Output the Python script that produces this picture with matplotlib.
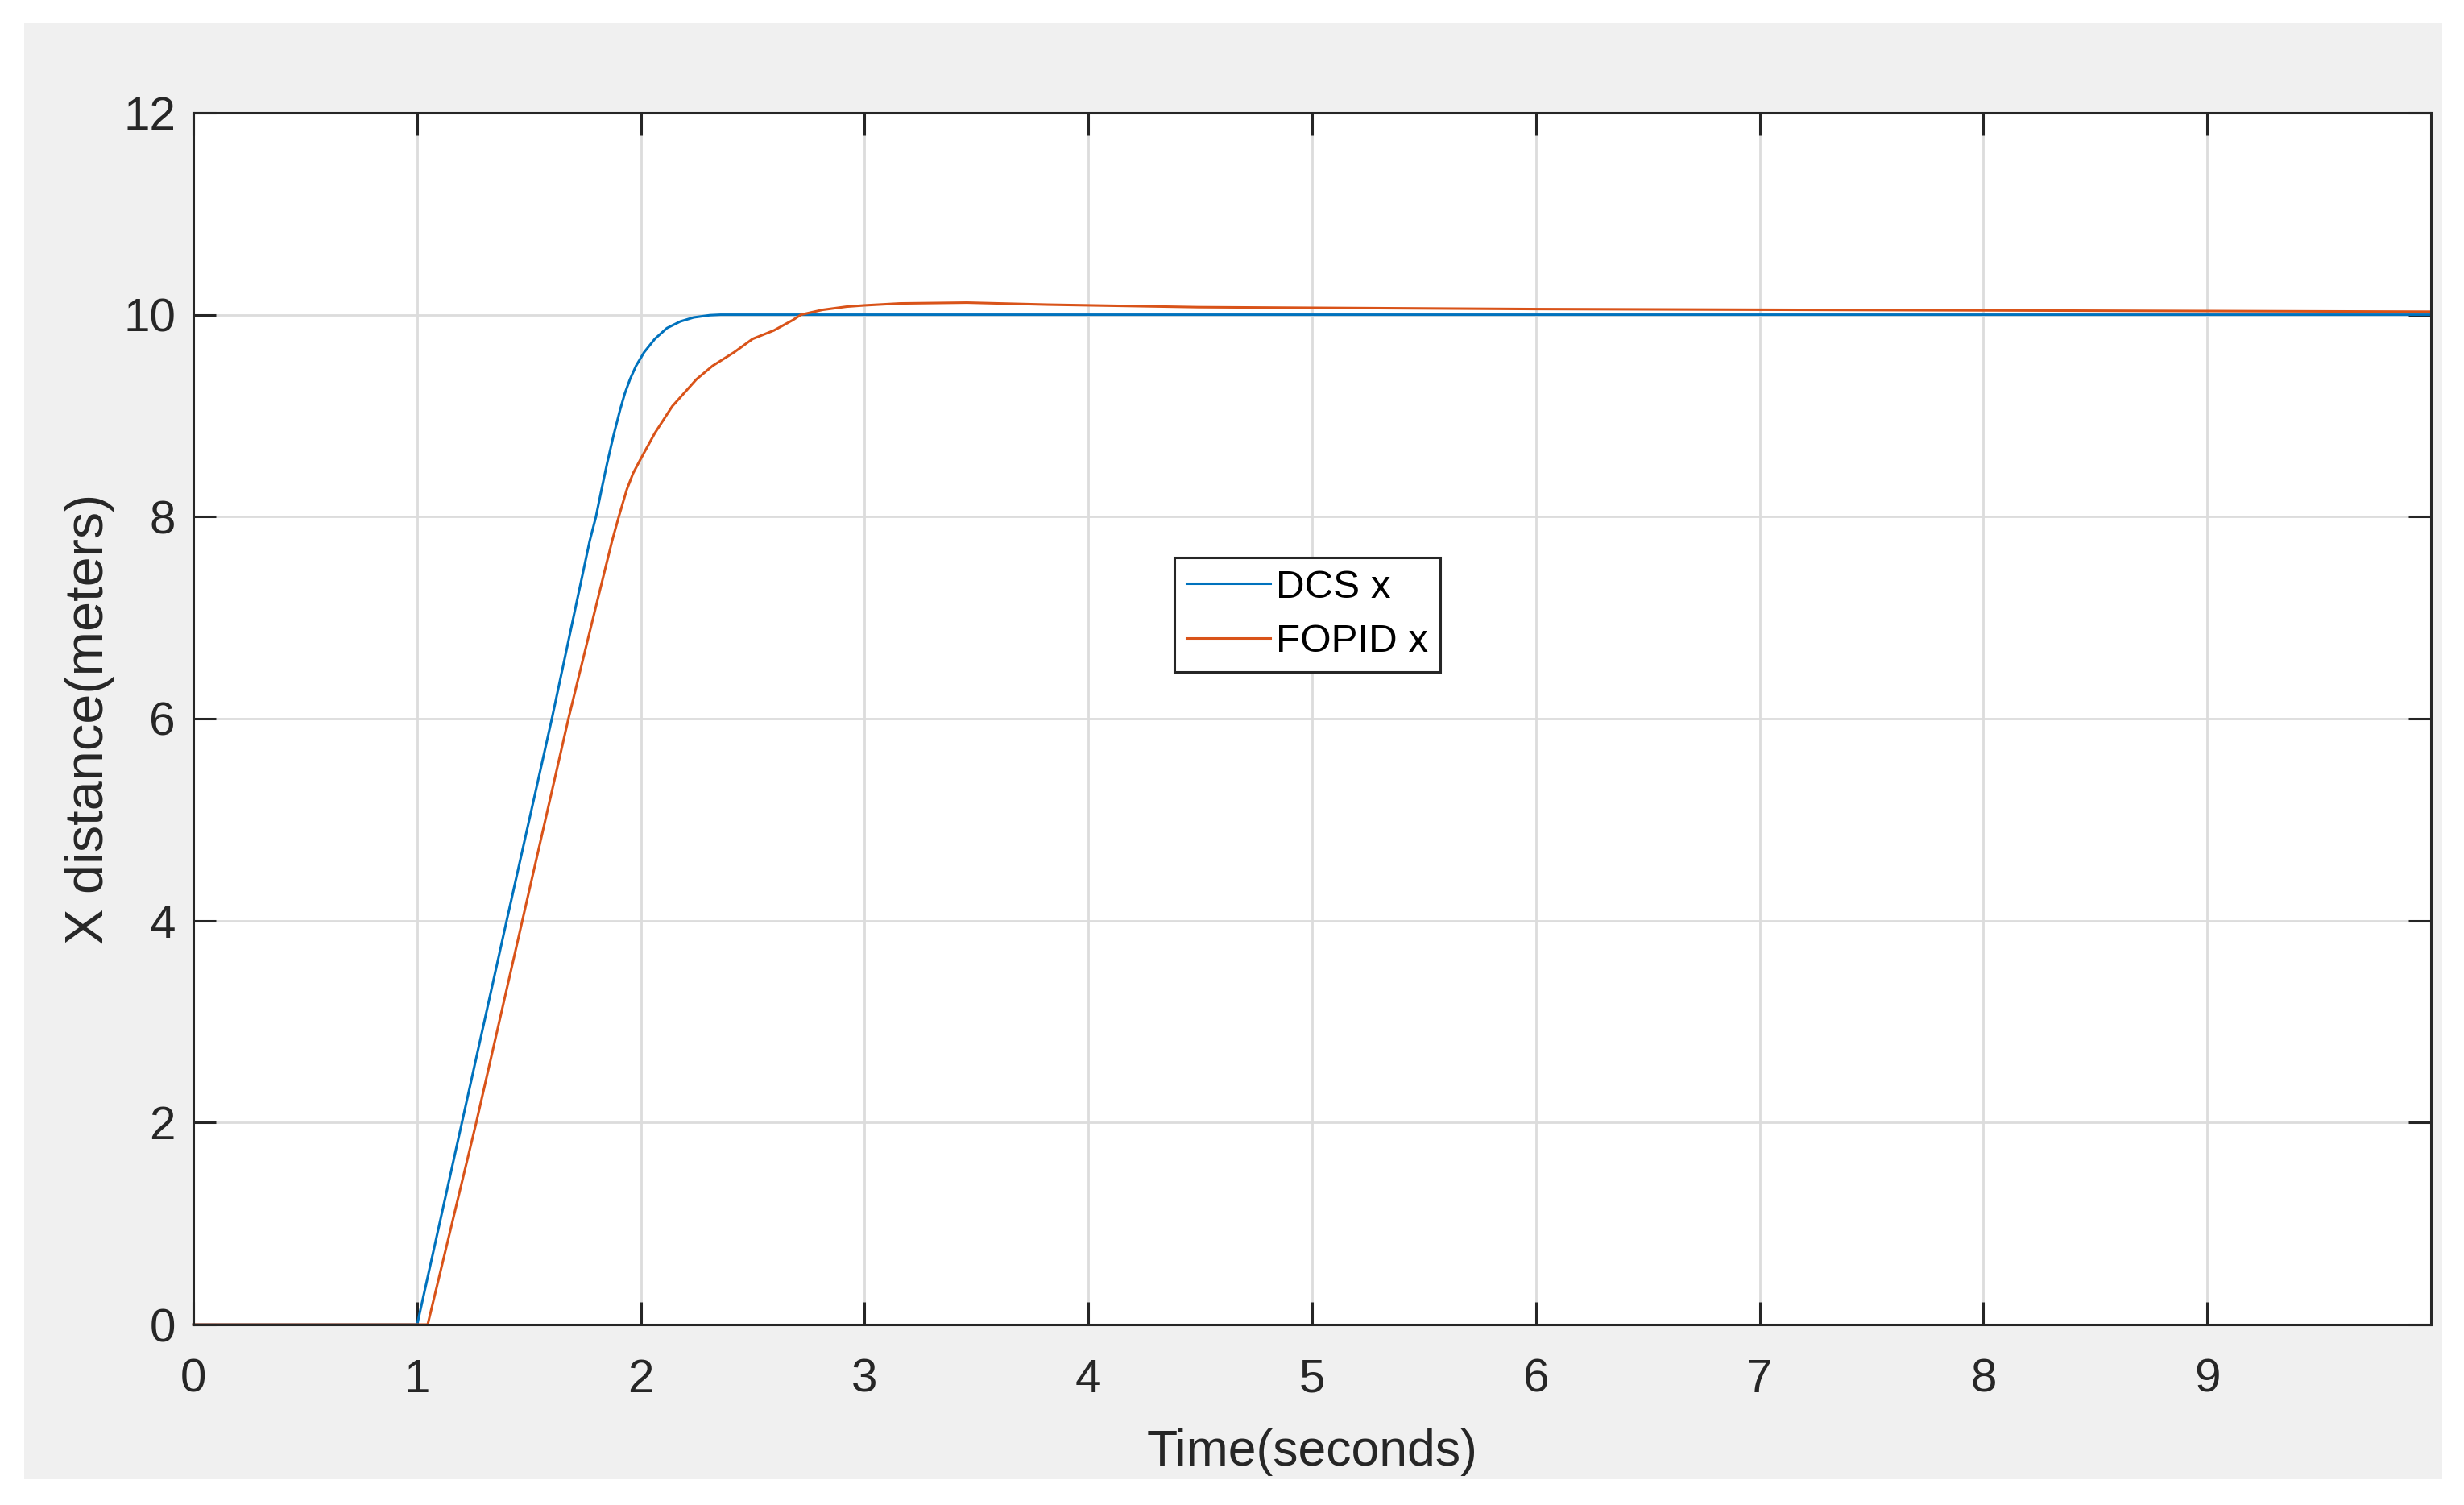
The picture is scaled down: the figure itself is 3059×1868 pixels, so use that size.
import numpy as np
import matplotlib.pyplot as plt
from matplotlib.patches import Rectangle

#==========Data==========
dcs_t = [0.0, 1.0, 1.2, 1.40, 1.602, 1.771, 1.799, 1.824, 1.849, 1.877, 1.907, 1.928,
         1.951, 1.978, 2.014, 2.062, 2.116, 2.176, 2.236, 2.308, 2.356, 10.0]
dcs_x = [0.0, 0.0, 2.0, 4.0, 6.0, 7.76, 8.0, 8.27, 8.53, 8.80, 9.06, 9.22,
         9.36, 9.493, 9.627, 9.76, 9.867, 9.933, 9.973, 9.995, 10.0, 10.0]

fopid_t = [0.0, 1.047, 1.264, 1.47, 1.676, 1.791, 1.871, 1.901, 1.937, 1.965, 1.996,
           2.062, 2.140, 2.248, 2.320, 2.416, 2.499, 2.595, 2.679, 2.715, 2.811, 2.919,
           3.0, 3.158, 3.457, 3.82, 4.49, 6.0, 8.0, 10.0]
fopid_x = [0.0, 0.0, 2.0, 4.0, 6.0, 7.04, 7.76, 8.0, 8.27, 8.43, 8.56,
           8.827, 9.093, 9.36, 9.493, 9.627, 9.76, 9.845, 9.947, 10.0, 10.048, 10.08,
           10.093, 10.112, 10.12, 10.10, 10.075, 10.056, 10.043, 10.03]

x_ticks = [0, 1, 2, 3, 4, 5, 6, 7, 8, 9]
y_ticks = [0, 2, 4, 6, 8, 10, 12]

plt.rcParams['font.family'] = ['Liberation Sans', 'DejaVu Sans']

#==========Figure with matlab style gray panel==========
fig = plt.figure(figsize=(15.295, 9.34), dpi=200, facecolor='white')
fig.patches.append(Rectangle((0.0098, 0.0171), 0.9814, 0.9674, transform=fig.transFigure,
                             facecolor='#f0f0f0', edgecolor='none', zorder=-10))
ax = fig.add_axes([0.0785, 0.1199, 0.9081, 0.8052])
ax.set_facecolor('white')

#==========Lines==========
ax.plot(dcs_t, dcs_x, color='#0072BD', lw=1.1, label='DCS x', clip_on=False)
ax.plot(fopid_t, fopid_x, color='#D95319', lw=1.1, label='FOPID x', clip_on=False)

#==========Axes, ticks, grid==========
ax.set_xlim(0, 10)
ax.set_ylim(0, 12)
ax.set_xticks(x_ticks)
ax.set_yticks(y_ticks)
ax.grid(True, color='#dcdcdc', lw=1.0)
ax.set_axisbelow(True)
ax.tick_params(direction='in', length=10, width=1.1, colors='#262626', labelsize=21,
               top=True, right=True)
ax.tick_params(axis='x', pad=15)
ax.tick_params(axis='y', pad=8)
for s in ax.spines.values():
    s.set_color('#262626')
    s.set_linewidth(1.1)
    s.set_zorder(3)

ax.set_xlabel('Time(seconds)', fontsize=22.5, color='#262626', labelpad=12)
ax.set_ylabel('X distance(meters)', fontsize=24, color='#262626', labelpad=4)

#==========Legend==========
leg = ax.legend(loc='upper left', bbox_to_anchor=(0.4385, 0.633), borderaxespad=0,
                fontsize=17.8, fancybox=False, framealpha=1, edgecolor='#262626',
                handlelength=2.1, handletextpad=0.15, labelspacing=0.45, borderpad=0.3)
leg.get_frame().set_linewidth(1.1)

fig.savefig('out.png', dpi=200, facecolor='white')
